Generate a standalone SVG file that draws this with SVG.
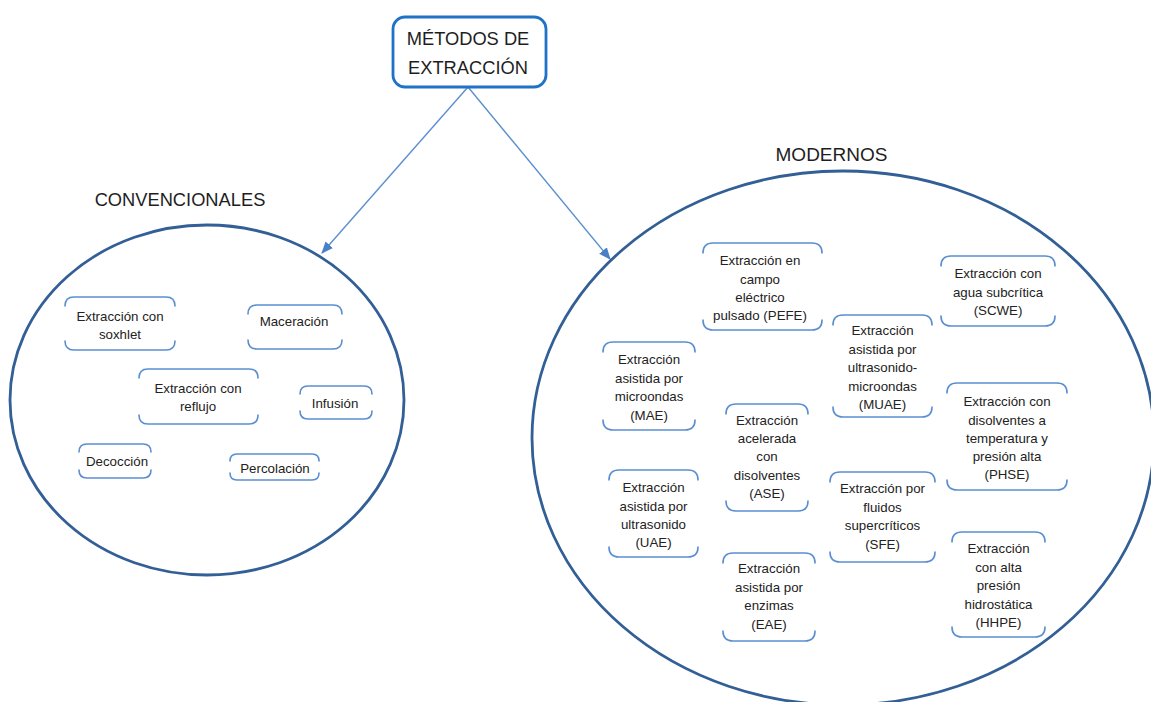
<svg xmlns="http://www.w3.org/2000/svg" width="1151" height="702" viewBox="0 0 1151 702">
<style>
.bg{fill:#ffffff}
.ell{fill:none;stroke:#325f95;stroke-width:2.8}
.bx{fill:none;stroke:#5b8ed1;stroke-width:1.6;stroke-linecap:round}
.t{font-family:"Liberation Sans",Arial,sans-serif;font-size:13.3px;fill:#222222;text-anchor:middle}
.h{font-family:"Liberation Sans",Arial,sans-serif;font-size:18.3px;fill:#1e1e1e;text-anchor:middle}
.cn{fill:none;stroke:#5b8fd0;stroke-width:1.4}
.title{fill:#ffffff;stroke:#1f72c6;stroke-width:2.8}
</style>
<defs>
<marker id="ah" markerWidth="12" markerHeight="10" refX="11" refY="5" orient="auto" markerUnits="userSpaceOnUse">
<path d="M0,0 L12,5 L0,10 Z" fill="#4a80c8"/>
</marker>
</defs>
<rect class="bg" x="0" y="0" width="1151" height="702"/>

<g id="connectors">
<line class="cn" x1="468" y1="87" x2="322" y2="253" marker-end="url(#ah)"/>
<line class="cn" x1="468" y1="87" x2="610" y2="259" marker-end="url(#ah)"/>
</g>

<g id="metodos">
<rect class="title" x="393" y="17" width="153" height="70" rx="12" ry="12"/>
<text class="h" x="468" y="44.5">MÉTODOS DE</text>
<text class="h" x="468" y="74">EXTRACCIÓN</text>
</g>

<g id="convencionales">
<ellipse class="ell" cx="207" cy="400" rx="197" ry="175"/>
<text class="h" x="180" y="206">CONVENCIONALES</text>
</g>

<g id="modernos">
<ellipse class="ell" cx="843" cy="438" rx="311" ry="267"/>
<text class="h" x="831.5" y="161" style="font-size:19px">MODERNOS</text>
</g>

<g id="soxhlet">
<path class="bx" d="M65,306 Q65,297 74,297 H166 Q175,297 175,306 M65,341 Q65,350 74,350 H166 Q175,350 175,341"/>
<text class="t" x="120" y="320.5">Extracción con</text>
<text class="t" x="120" y="338.5">soxhlet</text>
</g>
<g id="maceracion">
<path class="bx" d="M248,314 Q248,305 257,305 H333 Q342,305 342,314 M248,340 Q248,349 257,349 H333 Q342,349 342,340"/>
<text class="t" x="294" y="325.5">Maceración</text>
</g>
<g id="reflujo">
<path class="bx" d="M139,378 Q139,369 148,369 H249 Q258,369 258,378 M139,415 Q139,424 148,424 H249 Q258,424 258,415"/>
<text class="t" x="198" y="392.5">Extracción con</text>
<text class="t" x="198" y="410.5">reflujo</text>
</g>
<g id="infusion">
<path class="bx" d="M300,394 Q300,386 308,386 H364 Q372,386 372,394 M300,411 Q300,419 308,419 H364 Q372,419 372,411"/>
<text class="t" x="335" y="408">Infusión</text>
</g>
<g id="decoccion">
<path class="bx" d="M79,452 Q79,444 87,444 H143 Q151,444 151,452 M79,470 Q79,478 87,478 H143 Q151,478 151,470"/>
<text class="t" x="117" y="466">Decocción</text>
</g>
<g id="percolacion">
<path class="bx" d="M230,461 Q230,454 237,454 H312 Q319,454 319,461 M230,473 Q230,480 237,480 H312 Q319,480 319,473"/>
<text class="t" x="275" y="472.5">Percolación</text>
</g>

<g id="pefe">
<path class="bx" d="M703,253 Q703,243 713,243 H812 Q822,243 822,253 M703,320 Q703,330 713,330 H812 Q822,330 822,320"/>
<text class="t" x="760" y="265">Extracción en</text>
<text class="t" x="760" y="283.5">campo</text>
<text class="t" x="760" y="302">eléctrico</text>
<text class="t" x="760" y="320">pulsado (PEFE)</text>
</g>
<g id="scwe">
<path class="bx" d="M941,266 Q941,256 951,256 H1045 Q1055,256 1055,266 M941,316 Q941,326 951,326 H1045 Q1055,326 1055,316"/>
<text class="t" x="998" y="278">Extracción con</text>
<text class="t" x="998" y="296.5">agua subcrítica</text>
<text class="t" x="998" y="315">(SCWE)</text>
</g>
<g id="muae">
<path class="bx" d="M833,325 Q833,315 843,315 H922 Q932,315 932,325 M833,407 Q833,417 843,417 H922 Q932,417 932,407"/>
<text class="t" x="882.5" y="335">Extracción</text>
<text class="t" x="882.5" y="353.5">asistida por</text>
<text class="t" x="882.5" y="372">ultrasonido-</text>
<text class="t" x="882.5" y="390.5">microondas</text>
<text class="t" x="882.5" y="409">(MUAE)</text>
</g>
<g id="phse">
<path class="bx" d="M947,393 Q947,383 957,383 H1057 Q1067,383 1067,393 M947,480 Q947,490 957,490 H1057 Q1067,490 1067,480"/>
<text class="t" x="1007" y="406">Extracción con</text>
<text class="t" x="1007" y="424.5">disolventes a</text>
<text class="t" x="1007" y="443">temperatura y</text>
<text class="t" x="1007" y="461">presión alta</text>
<text class="t" x="1007" y="479">(PHSE)</text>
</g>
<g id="mae">
<path class="bx" d="M603,352 Q603,342 613,342 H685 Q695,342 695,352 M603,420 Q603,430 613,430 H685 Q695,430 695,420"/>
<text class="t" x="649" y="364">Extracción</text>
<text class="t" x="649" y="382.5">asistida por</text>
<text class="t" x="649" y="401">microondas</text>
<text class="t" x="649" y="419.5">(MAE)</text>
</g>
<g id="ase">
<path class="bx" d="M726,414 Q726,404 736,404 H798 Q808,404 808,414 M726,501 Q726,511 736,511 H798 Q808,511 808,501"/>
<text class="t" x="767" y="424.5">Extracción</text>
<text class="t" x="767" y="443">acelerada</text>
<text class="t" x="767" y="461">con</text>
<text class="t" x="767" y="479.5">disolventes</text>
<text class="t" x="767" y="498">(ASE)</text>
</g>
<g id="uae">
<path class="bx" d="M609,480 Q609,470 619,470 H688 Q698,470 698,480 M609,547 Q609,557 619,557 H688 Q698,557 698,547"/>
<text class="t" x="653.5" y="492">Extracción</text>
<text class="t" x="653.5" y="510.5">asistida por</text>
<text class="t" x="653.5" y="529">ultrasonido</text>
<text class="t" x="653.5" y="547">(UAE)</text>
</g>
<g id="eae">
<path class="bx" d="M723,563 Q723,553 733,553 H805 Q815,553 815,563 M723,631 Q723,641 733,641 H805 Q815,641 815,631"/>
<text class="t" x="769" y="573">Extracción</text>
<text class="t" x="769" y="591.5">asistida por</text>
<text class="t" x="769" y="610">enzimas</text>
<text class="t" x="769" y="628.5">(EAE)</text>
</g>
<g id="sfe">
<path class="bx" d="M830,482 Q830,472 840,472 H925 Q935,472 935,482 M830,552 Q830,562 840,562 H925 Q935,562 935,552"/>
<text class="t" x="882.5" y="493">Extracción por</text>
<text class="t" x="882.5" y="511.5">fluidos</text>
<text class="t" x="882.5" y="530">supercríticos</text>
<text class="t" x="882.5" y="548.5">(SFE)</text>
</g>
<g id="hhpe">
<path class="bx" d="M952,542 Q952,532 962,532 H1035 Q1045,532 1045,542 M952,627 Q952,637 962,637 H1035 Q1045,637 1045,627"/>
<text class="t" x="998.5" y="553">Extracción</text>
<text class="t" x="998.5" y="571.5">con alta</text>
<text class="t" x="998.5" y="590">presión</text>
<text class="t" x="998.5" y="608.5">hidrostática</text>
<text class="t" x="998.5" y="627">(HHPE)</text>
</g>
</svg>
